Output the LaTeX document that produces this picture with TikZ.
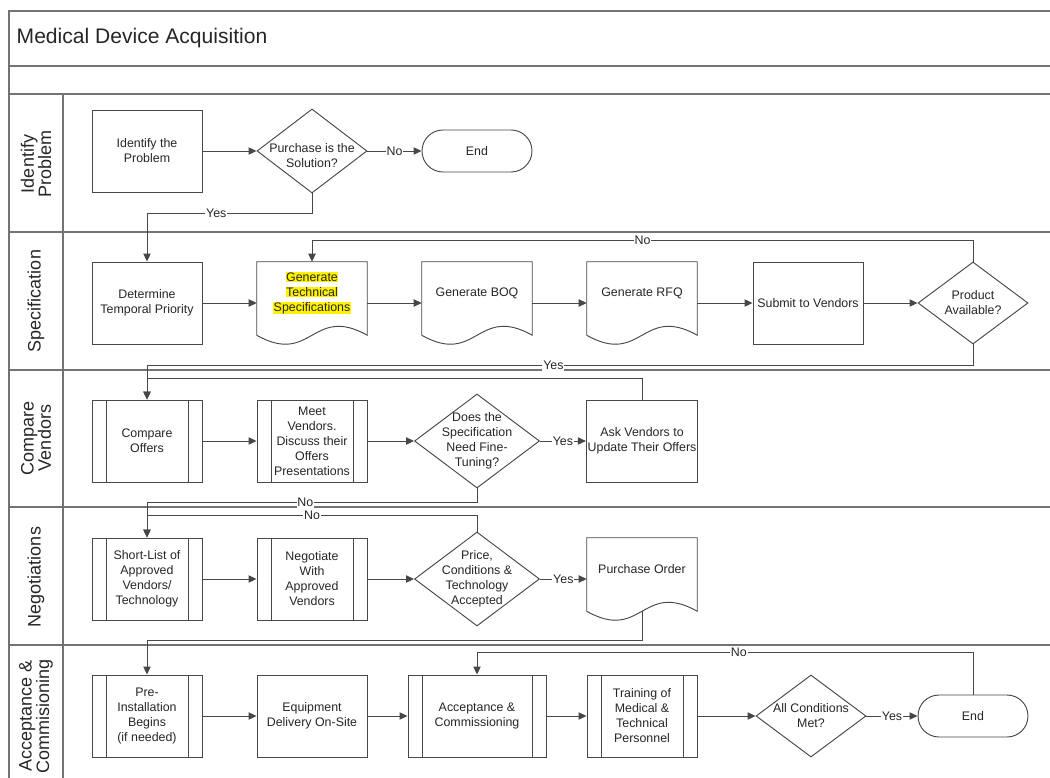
\documentclass[tikz,border=0pt]{standalone}
\usepackage{fontspec}
\setmainfont{Liberation Sans}
\usepackage{tikz}
\usetikzlibrary{arrows.meta, positioning, shapes.geometric}
\newcommand{\hlt}[1]{{\setlength{\fboxsep}{0.4pt}\colorbox{yellow}{#1}}}

\begin{document}
\begin{tikzpicture}
[x=0.75pt, y=-0.75pt,
->/.style={draw=black!72, line width=0.7pt, arrows={-{Triangle[length=6pt,width=5.5pt]}}},
   every node/.style={font=\fontsize{9.3}{11.25}\selectfont, text=black!85},
   laneG/.style={draw=black!55, line width=1.1pt},
   laneT/.style={rotate=90, align=center, font=\fontsize{13.5}{13}\selectfont},
   procG/.style={shape=rectangle, draw=black!72, line width=0.7pt, fill=white, align=center,
                 inner sep=1pt, minimum width=82.5pt, minimum height=61.5pt},
   subG/.style={procG, path picture={
       \draw[black!72, line width=0.7pt]
         ([xshift=10.5pt]path picture bounding box.north west) -- ([xshift=10.5pt]path picture bounding box.south west)
         ([xshift=-10.5pt]path picture bounding box.north east) -- ([xshift=-10.5pt]path picture bounding box.south east);}},
   docG/.style={shape=rectangle, align=center, inner sep=1pt, minimum width=82.5pt, minimum height=46.5pt},
   decG/.style={shape=diamond, draw=black!72, line width=0.7pt, fill=white, inner sep=0pt,
                minimum width=82.5pt, minimum height=61.5pt},
   decT/.style={align=center, inner sep=0pt},
   termG/.style={shape=rectangle, rounded corners=15.75pt, draw=black!72, line width=0.7pt, fill=white,
                 minimum width=82.5pt, minimum height=31.5pt},
   lblG/.style={fill=white, inner sep=0.6pt}]
\useasboundingbox (0,0) rectangle (1050,778);
% pool and lanes
\draw[laneG] (1050,11) -- (9,11) -- (9,778);
\foreach \y in {66,94,232,370,507,645}
  \draw[laneG] (9,\y) -- (1050,\y);
\draw[laneG] (63,94) -- (63,778);
\node[anchor=west, font=\fontsize{15.8}{18}\selectfont] (title) at (12,38) {Medical Device Acquisition};
\node[laneT] (L1) at (36,164) {Identify\\Problem};
\node[laneT] (L2) at (36,301) {Specification};
\node[laneT] (L3) at (36,438) {Compare\\Vendors};
\node[laneT] (L4) at (36,577) {Negotiations};
\node[laneT] (L5) at (36,716) {Acceptance \&\\Commisioning};
% identify problem
\node[procG] (IP) at (147,151) {Identify the\\Problem};
\node[decG, minimum height=63pt] (PS) at (312,151) {};
\node[decT] (PSt) at (312,156) {Purchase is the\\Solution?};
\node[termG] (E1) at (477,151) {End};
% specification
\node[procG] (DTP) at (147,303) {Determine\\Temporal Priority};
\node[docG] (GTS) at (312,293) {\hlt{Generate}\\\hlt{Technical}\\\hlt{Specifications}};
\node[docG] (BOQ) at (477,293) {Generate BOQ};
\node[docG] (RFQ) at (642,293) {Generate RFQ};
\node[procG] (SV) at (808,303) {Submit to Vendors};
\node[decG] (PA) at (973,303) {};
\node[decT] (PAt) at (PA) {Product\\Available?};
% compare vendors
\node[subG] (CO) at (147,441) {Compare\\Offers};
\node[subG] (MV) at (312,441) {Meet\\Vendors.\\Discuss their\\Offers\\Presentations};
\node[decG, minimum width=93.75pt, minimum height=70.5pt] (DN) at (477,441) {};
\node[decT] (DNt) at (DN) {Does the\\Specification\\Need Fine-\\Tuning?};
\node[procG] (AV) at (642,441) {Ask Vendors to\\Update Their Offers};
% negotiations
\node[subG] (SL) at (147,579) {Short-List of\\Approved\\Vendors/\\Technology};
\node[subG] (NW) at (312,579) {Negotiate\\With\\Approved\\Vendors};
\node[decG, minimum width=93.75pt, minimum height=70.5pt] (PCT) at (477,579) {};
\node[decT] (PCTt) at (PCT) {Price,\\Conditions \&\\Technology\\Accepted};
\node[docG] (PO) at (642,569) {Purchase Order};
% acceptance
\node[subG] (PI) at (147,716) {Pre-\\Installation\\Begins\\(if needed)};
\node[procG] (ED) at (312,716) {Equipment\\Delivery On-Site};
\node[subG, minimum width=103.5pt] (AC) at (477,716) {\raisebox{5pt}{\begin{tabular}{@{}c@{}}Acceptance \&\\Commissioning\end{tabular}}};
\node[subG] (TR) at (642,716) {Training of\\Medical \&\\Technical\\Personnel};
\node[decG] (AM) at (811,716) {};
\node[decT] (AMt) at (AM) {All Conditions\\Met?};
\node[termG] (E2) at (973,716) {End};
% document outlines
\foreach \d in {GTS,BOQ,RFQ,PO}
  \draw[black!72, line width=0.7pt] (\d.north west) -- (\d.north east) -- ([shift={(0,11)}]\d.south east)
    .. controls ([shift={(-55,-20)}]\d.south east) and ([shift={(55,42)}]\d.south west)
    .. ([shift={(0,11)}]\d.south west) -- cycle;
% flows
\draw [->] (IP) -- (PS);
\draw [->] (PS) -- (E1) node [lblG, midway] (n1) {No};
\draw [->] (PS.south) -- ++(0,20) -| (DTP.north) node [lblG, pos=0.29] (y1) {Yes};
\draw [->] (DTP) -- (DTP -| GTS.west);
\draw [->] (GTS.east |- DTP) -- (BOQ.west |- DTP);
\draw [->] (BOQ.east |- DTP) -- (RFQ.west |- DTP);
\draw [->] (RFQ.east |- DTP) -- (SV);
\draw [->] (SV) -- (PA);
\draw [->] (PA.north) -- ++(0,-21) -| (GTS.north) node [lblG, pos=0.25] (n2) {No};
\draw [->] (PA.south) -- ++(0,21) -| (CO.north) node [lblG, pos=0.254] (y2) {Yes};
\draw [->] (CO) -- (MV);
\draw [->] (MV) -- (DN);
\draw [->] (DN) -- (AV) node [lblG, midway] (y3) {Yes};
\draw [->] (AV.north) -- ++(0,-21) -| (CO.north);
\draw [->] (DN.south) -- ++(0,14) -| (SL.north) node [lblG, pos=0.26] (n3) {No};
\draw [->] (SL) -- (NW);
\draw [->] (NW) -- (PCT);
\draw [->] (PCT) -- (PCT -| PO.west) node [lblG, midway] (y4) {Yes};
\draw [->] (PCT.north) -- ++(0,-16) -| (SL.north) node [lblG, pos=0.25] (n4) {No};
\draw [->] ([shift={(0,11)}]PO.south) -- ++(0,29) -| (PI.north);
\draw [->] (PI) -- (ED);
\draw [->] (ED) -- (AC);
\draw [->] (AC) -- (TR);
\draw [->] (TR) -- (AM);
\draw [->] (AM) -- (E2) node [lblG, midway] (y5) {Yes};
\draw [->] (E2.north) -- ++(0,-42) -| (AC.north) node [lblG, pos=0.236] (n5) {No};
\end{tikzpicture}
\end{document}
